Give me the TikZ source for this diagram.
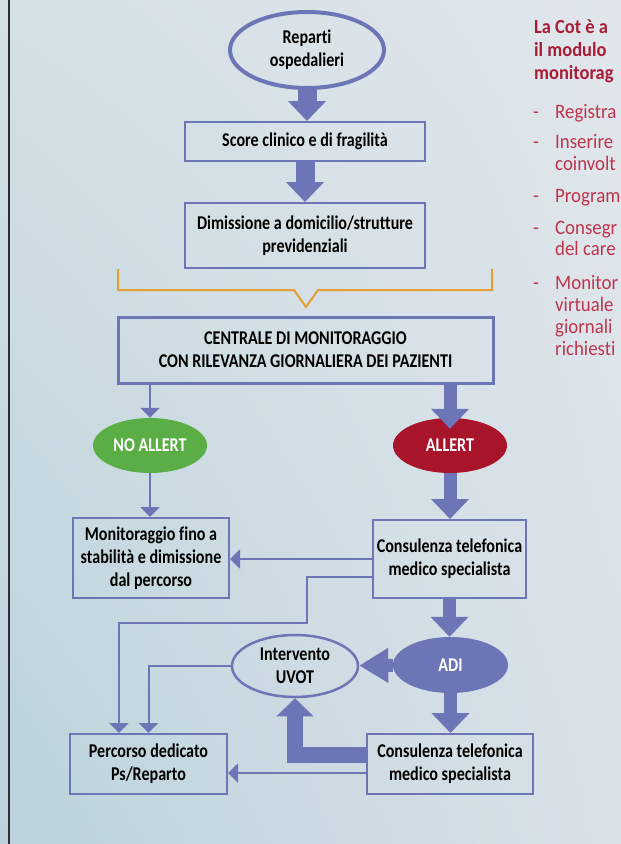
\documentclass[tikz,border=0pt]{standalone}
\usepackage{fontspec}
\setmainfont{Carlito}[Ligatures=NoCommon]
\newfontfamily\boxfont[FakeStretch=0.825, Ligatures=NoCommon]{Carlito}
\newfontfamily\cotfont[FakeStretch=0.92, Ligatures=NoCommon]{Carlito}
\usetikzlibrary{arrows.meta, shapes.geometric, shadings}

\definecolor{flowblue}{RGB}{108,117,181}
\definecolor{okgreen}{RGB}{91,173,69}
\definecolor{alertred}{RGB}{168,21,42}
\definecolor{bracketorange}{RGB}{226,160,50}
\definecolor{cotred}{RGB}{168,28,54}
\definecolor{cotpink}{RGB}{190,52,76}
\definecolor{inkline}{RGB}{45,45,50}
\definecolor{bgul}{RGB}{212,224,229}
\definecolor{bgur}{RGB}{224,230,236}
\definecolor{bgll}{RGB}{186,210,219}
\definecolor{bglr}{RGB}{218,225,232}

\newcommand{\boxtext}{\boxfont\bfseries\fontsize{19.5pt}{23pt}\selectfont}

\begin{document}
\begin{tikzpicture}[
        x=1pt, y=-1pt,
        box/.style={rectangle, draw=flowblue, line width=2pt, align=center, inner sep=0pt, font=\boxtext},
        bubble/.style={ellipse, draw=flowblue, align=center, inner sep=0pt, font=\boxtext},
        flag/.style={ellipse, align=center, inner sep=0pt, minimum width=114pt, minimum height=55pt, text=white, font=\boxtext},
        fat/.style={draw=flowblue, line width=13pt, -{Triangle[width=37pt, length=20pt]}},
        link/.style={draw=flowblue, line width=2pt, -{Triangle[width=19pt, length=10pt]}},
        cothead/.style={align=left, inner sep=0pt, text=cotred, font=\cotfont\bfseries\fontsize{20pt}{23pt}\selectfont},
        cotlist/.style={align=left, inner sep=0pt, text=cotpink, font=\cotfont\fontsize{20.5pt}{21.8pt}\selectfont}
    ]
        % Background and page rule
        \useasboundingbox (0,0) rectangle (621,844);
        \shade[upper left=bgul, upper right=bgur, lower left=bgll, lower right=bglr] (0,0) rectangle (621,844);
        \draw[line width=2pt, inkline] (9,0) -- (9,844);

        % Main flow nodes
        \node[bubble, line width=4pt, minimum width=154pt, minimum height=76pt] (reparti) at (307,50) {Reparti\\ospedalieri};
        \node[box, minimum width=240pt, minimum height=39pt] (score) at (305,141.5) {Score clinico e di fragilità};
        \node[box, minimum width=240pt, minimum height=65pt] (dimissione) at (305,235.5) {Dimissione a domicilio/strutture\\previdenziali};
        \node[box, line width=3pt, minimum width=375pt, minimum height=66pt] (centrale) at (305.5,350) {CENTRALE DI MONITORAGGIO\\CON RILEVANZA GIORNALIERA DEI PAZIENTI};

        % Alert split
        \node[flag, fill=okgreen] (noallert) at (150,445.5) {NO ALLERT};
        \node[flag, fill=alertred] (allert) at (450,445.5) {ALLERT};

        % Follow-up nodes
        \node[box, minimum width=156pt, minimum height=80pt] (stabile) at (151,558) {Monitoraggio fino a\\stabilità e dimissione\\dal percorso};
        \node[box, minimum width=153pt, minimum height=78pt] (consulto) at (449.5,559) {Consulenza telefonica\\medico specialista};
        \node[flag, fill=flowblue, minimum width=115pt, minimum height=56pt] (adi) at (450.5,665) {ADI};
        \node[bubble, line width=2.5pt, minimum width=126pt, minimum height=62pt] (uvot) at (295,666) {Intervento\\UVOT};
        \node[box, minimum width=166pt, minimum height=60pt] (recall) at (450,764) {Consulenza telefonica\\medico specialista};
        \node[box, minimum width=157pt, minimum height=60pt] (percorso) at (148.5,764) {Percorso dedicato\\Ps/Reparto};

        % Bracket gathering the discharge paths
        \draw[bracketorange, line width=2pt] (118,269) -- (118,290) -- (294,290) -- (306,307) -- (318,290) -- (492,290) -- (492,269);

        % Main flow arrows
        \draw[fat, line width=19pt] (reparti.south) -- (reparti.south |- score.north);
        \draw[fat, line width=19pt] (score) -- (dimissione);
        \draw[link] (centrale.south -| noallert) -- (noallert);
        \draw[fat] (centrale.south -| allert) -- ([yshift=-11pt]allert.north);
        \draw[link] (noallert) -- (noallert |- stabile.north);
        \draw[fat] (allert) -- (allert |- consulto.north);

        % Side exits
        \draw[link] (consulto.west) -- (consulto.west -| stabile.east);
        \coordinate (bend) at (307,623);
        \draw[link] ([yshift=-18pt]consulto.west) -| (bend) -| ([xshift=-29.5pt]percorso.north);
        \draw[link] (uvot.west) -| (percorso.north);
        \draw[fat] (consulto.south) -- (consulto.south |- adi.north);
        \draw[fat, -{Triangle[width=33pt, length=29pt]}] (adi) -- (uvot);
        \draw[fat] (adi) -- (adi |- recall.north);
        \draw[fat, line width=16pt, -{Triangle[width=36pt, length=18pt]}] ([yshift=9pt]recall.west) -| (uvot.south);
        \draw[link] ([yshift=-9pt]recall.west) -- ([yshift=-9pt]recall.west -| percorso.east);

        % Cot side notes
        \node[cothead, anchor=north west] (cot) at (534,19) {La Cot è a\\il modulo\\monitorag};
        \node[cotlist, anchor=north west] (tasks) at (533,104) {%
            \makebox[22pt][l]{-}Registra\\[8.5pt]
            \makebox[22pt][l]{-}Inserire\\
            \hspace*{22pt}coinvolt\\[10pt]
            \makebox[22pt][l]{-}Program\\[10pt]
            \makebox[22pt][l]{-}Consegr\\
            \hspace*{22pt}del care\\[12pt]
            \makebox[22pt][l]{-}Monitor\\
            \hspace*{22pt}virtuale\\
            \hspace*{22pt}giornali\\
            \hspace*{22pt}richiesti};
    \end{tikzpicture}
\end{document}
